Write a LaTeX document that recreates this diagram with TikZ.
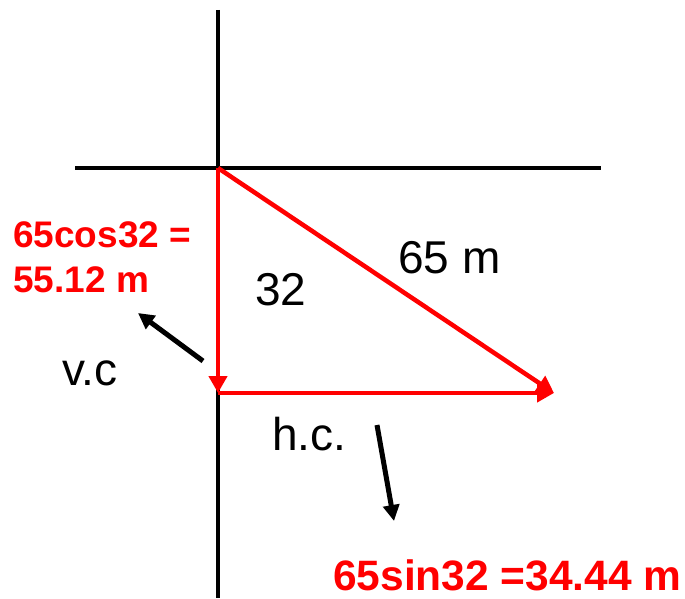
\documentclass[tikz,border=0pt]{standalone}
\usepackage{fontspec}
\setmainfont{Liberation Sans}
\usepackage{xcolor}
\usetikzlibrary{arrows.meta,positioning,calc}
\definecolor{vred}{HTML}{FF0000}
\tikzset{
  % axes and component vectors
  axis/.style  = {line width=4.5pt, black},
  vec/.style   = {line width=4.5pt, vred, -{Triangle[length=17pt,width=18pt]}},
  ptr/.style   = {line width=5pt, black, -{Triangle[length=16pt,width=16pt]}},
  big/.style   = {font=\fontsize{46}{52}\selectfont, inner sep=0pt, anchor=base west},
  res/.style   = {font=\fontsize{37}{45}\selectfont\bfseries, text=vred, inner sep=0pt,
                  anchor=base west},
  resbig/.style = {font=\fontsize{42.5}{50}\selectfont\bfseries, text=vred, inner sep=0pt,
                  anchor=base west},
}
\begin{document}
\begin{tikzpicture}[x=1pt,y=-1pt]
\useasboundingbox (0,0) rectangle (685,599);
% axes
\coordinate (top) at (218,10);
\coordinate (bot) at (218,598);
\coordinate (lft) at (75,168);
\coordinate (rgt) at (601,168);
\draw[axis] (top) -- (bot);
\draw[axis] (lft) -- (rgt);
% triangle of vectors
\coordinate (O) at (218,168);
\coordinate (V) at (218,393);
\coordinate (H) at (554,393);
\draw[vec] (O) -- (V);
\draw[vec] (V) -- (H);
\draw[vec] (O) -- (H);
% labels
\node[big] (ang) at (255,305) {32};
\node[big] (hyp) at (398,273) {65 m};
\node[big] (vc) at (62,385) {v.c};
\node[big] (hc) at (272,450) {h.c.};
\node[res] (cosA) at (13,247) {65cos32 =};
\node[res] (cosB) at (13,292) {55.12 m};
\node[resbig] (sinv) at (333,590) {65sin32 =34.44 m};
% pointers
\coordinate (vtail) at (203,361);
\coordinate (vtip) at (138,313);
\coordinate (htail) at (377,425);
\coordinate (htip) at (394,521);
\draw[ptr] (vtail) -- (vtip);
\draw[ptr] (htail) -- (htip);
\end{tikzpicture}
\end{document}
